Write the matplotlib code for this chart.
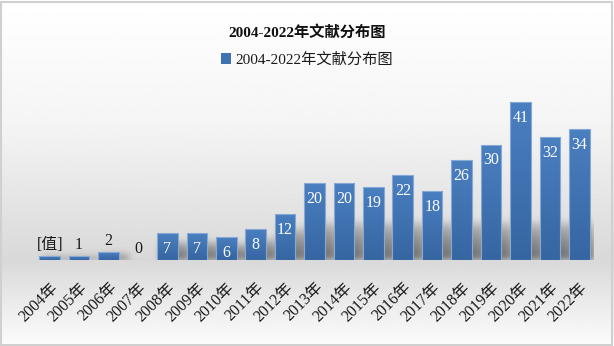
import numpy as np
import matplotlib
matplotlib.use("Agg")
import matplotlib.pyplot as plt
from matplotlib.patches import Rectangle, Patch
from matplotlib.colors import LinearSegmentedColormap

plt.rcParams['font.family'] = ['Liberation Serif', 'Noto Sans CJK SC', 'DejaVu Sans']

# Data.
years = ['2004年', '2005年', '2006年', '2007年', '2008年', '2009年', '2010年',
         '2011年', '2012年', '2013年', '2014年', '2015年', '2016年', '2017年',
         '2018年', '2019年', '2020年', '2021年', '2022年']
counts = [1, 1, 2, 0, 7, 7, 6, 8, 12, 20, 20, 19, 22, 18, 26, 30, 41, 32, 34]
value_labels = ['[值]', '1', '2', '0', '7', '7', '6', '8', '12', '20', '20',
                '19', '22', '18', '26', '30', '41', '32', '34']
title = '2004-2022年文献分布图'

W, H = 614, 346
fig = plt.figure(figsize=(W / 100, H / 100), dpi=100)

# Background: white -> grey -> white vertical gradient.
bg = fig.add_axes([0, 0, 1, 1], zorder=-10)
yy = np.linspace(0, 1, 300)
shade = np.interp(yy, [0.0, 0.25, 0.65, 1.0], [0.99, 0.85, 0.96, 1.0])
grad = np.repeat(shade[:, None], 2, axis=1)
bg.imshow(grad, cmap='gray', vmin=0, vmax=1, aspect='auto',
          extent=[0, 1, 0, 1], origin='lower')
bg.add_patch(Rectangle((0.002, 0.003), 0.995, 0.992, fill=False,
                       ec='#d0d0d0', lw=1.5, transform=bg.transAxes))
bg.set_axis_off()

ax = fig.add_axes([35 / W, 86 / H, 559 / W, 174 / H])
ax.patch.set_alpha(0)
x = np.arange(len(years))
width = 0.7
xmin, xmax, ymax = -0.5, len(years) - 0.5, 45.2
ax.set_xlim(xmin, xmax)
ax.set_ylim(0, ymax)

# Soft floor shadow behind the bars, built as a blurred mask.
nx, ny = 559, 174
gx = np.linspace(xmin, xmax, nx)
gy = np.linspace(0, ymax, ny)
mask = np.zeros((ny, nx))
for xi, v in zip(x, counts):
    if v <= 0:
        continue
    sh = min(v * 0.7, 10)
    cols = (gx >= xi - width / 2 + 0.1) & (gx <= xi + width / 2 + 0.35)
    rows = gy <= sh
    fade = np.clip(1 - gy / max(sh, 1e-6), 0, 1) ** 0.5
    mask[np.ix_(rows, cols)] = fade[rows][:, None]
kern = np.exp(-0.5 * (np.arange(-12, 13) / 3.5) ** 2)
kern /= kern.sum()
mask = np.apply_along_axis(lambda r: np.convolve(r, kern, mode='same'), 1, mask)
mask = np.apply_along_axis(lambda c: np.convolve(c, kern, mode='same'), 0, mask)
rgba = np.zeros((ny, nx, 4))
rgba[..., :3] = 0.35
rgba[..., 3] = np.clip(mask * 0.85, 0, 1)
ax.imshow(rgba, origin='lower', aspect='auto', extent=[xmin, xmax, 0, ymax],
          zorder=1, interpolation='bilinear')

bar_cmap = LinearSegmentedColormap.from_list('bar', ['#3666a2', '#4a7fc0'])
vert = np.linspace(0, 1, 64)[:, None]
bars = ax.bar(x, counts, width, color='none', edgecolor='#86a8d6',
              linewidth=0.8, zorder=3)
for b, v in zip(bars, counts):
    if v <= 0:
        continue
    x0, y0 = b.get_x(), b.get_y()
    im = ax.imshow(vert, cmap=bar_cmap, aspect='auto', origin='lower',
                   extent=[x0, x0 + b.get_width(), y0, y0 + b.get_height()],
                   zorder=2)
    im.set_clip_path(b)

for xi, v, lab in zip(x, counts, value_labels):
    if v >= 5:
        ax.annotate(lab, (xi, v), xytext=(0, -11.5), textcoords='offset points',
                    ha='center', va='center', color='white', fontsize=11.5,
                    zorder=5)
    else:
        ax.annotate(lab, (xi, v), xytext=(0, 2.5), textcoords='offset points',
                    ha='center', va='bottom', color='#1a1a1a', fontsize=11.5,
                    zorder=5)

ax.set_xticks(x)
ax.set_xticklabels(years, rotation=45, ha='right', va='top',
                   rotation_mode='anchor', fontsize=11.5, color='#1a1a1a')
ax.tick_params(axis='x', length=0, pad=14)
ax.set_yticks([])
for s in ax.spines.values():
    s.set_visible(False)
ax.set_xlim(xmin, xmax)

fig.text(0.5, 1 - 32 / H, title, ha='center', va='center', fontsize=11,
         fontweight='bold', color='#111111')
handle = Patch(facecolor='#3f72b0', edgecolor='none')
fig.legend([handle], [title], loc='center', bbox_to_anchor=(0.5, 1 - 60 / H),
           frameon=False, fontsize=11, handlelength=0.7, handleheight=0.7,
           handletextpad=0.3, labelcolor='#1a1a1a')

fig.savefig('out.png', dpi=100)
